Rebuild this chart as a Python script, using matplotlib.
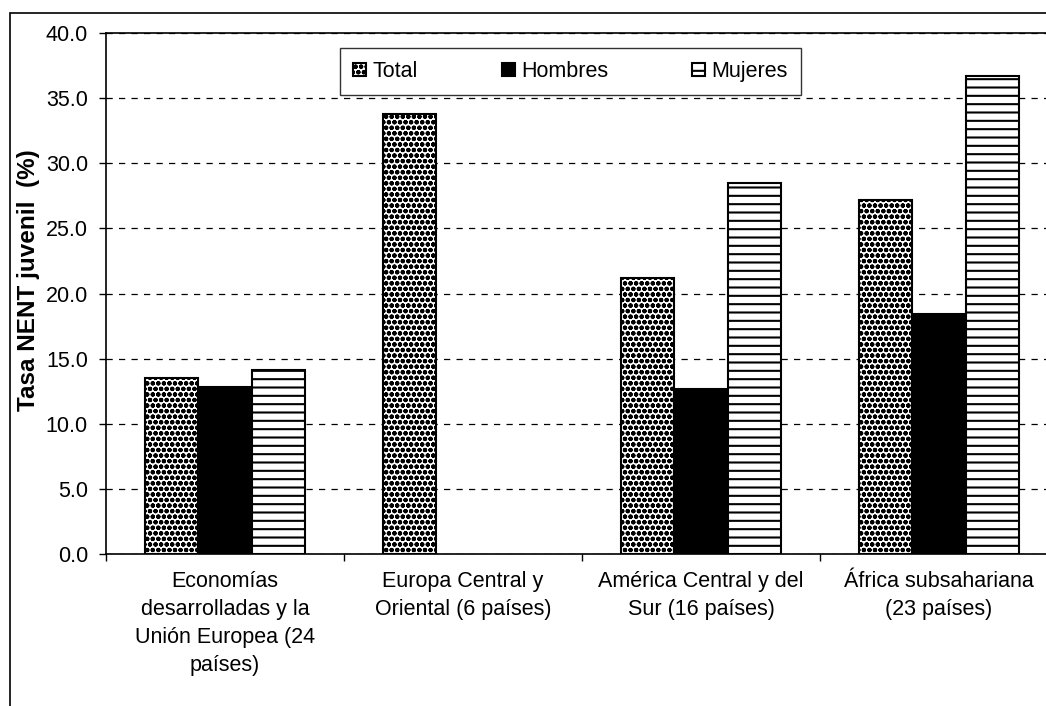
import matplotlib
matplotlib.use("Agg")
import matplotlib.pyplot as plt
import numpy as np
from matplotlib.patches import Rectangle

plt.rcParams['font.family'] = ['Liberation Sans', 'DejaVu Sans']
plt.rcParams['hatch.linewidth'] = 1.5

regiones = ["Economías\ndesarrolladas y la\nUnión Europea (24\npaíses)",
            "Europa Central y\nOriental (6 países)",
            "América Central y del\nSur (16 países)",
            "África subsahariana\n(23 países)"]
total = [13.5, 33.8, 21.2, 27.2]
hombres = [12.8, np.nan, 12.7, 18.4]
mujeres = [14.1, np.nan, 28.5, 36.7]

fs = 15.5
fig = plt.figure(figsize=(10.46, 7.06), dpi=100)
ax = fig.add_axes([106/1046, 1-554/706, 952/1046, 521/706])

x = np.arange(len(regiones))
w = 0.223
ax.bar(x - w, total, w, color='white', edgecolor='black', hatch='ooo', lw=1.5, label='Total', zorder=3)
ax.bar(x, hombres, w, color='black', edgecolor='black', lw=1.5, label='Hombres', zorder=3)
ax.bar(x + w, mujeres, w, color='white', edgecolor='black', hatch='--', lw=1.5, label='Mujeres', zorder=3)

ax.set_xlim(-0.5, 3.5)
ax.set_ylim(0, 40)
ax.set_yticks(np.arange(0, 40.1, 5))
ax.set_yticklabels([f"{v:.1f}" for v in np.arange(0, 40.1, 5)], fontsize=fs)
ax.yaxis.grid(True, color='black', lw=0.9, dashes=(5, 5))
ax.set_axisbelow(True)

ax.set_xticks(x)
ax.set_xticklabels(regiones, fontsize=fs, linespacing=1.45)
ax.set_xticks(np.arange(-0.5, 3.6, 1), minor=True)
ax.tick_params(axis='x', which='major', length=0, pad=12)
ax.tick_params(axis='x', which='minor', length=5, width=1)
ax.tick_params(axis='y', length=5, width=1, pad=8)
for s in ax.spines.values():
    s.set_linewidth(1.2)

fig.text(29/1046, 1-280/706, "Tasa NENT juvenil  (%)", rotation=90, fontsize=17.5,
         fontweight='bold', ha='center', va='center')

leg = ax.legend(ncol=3, loc='upper center', bbox_to_anchor=(0.488, 0.971), fontsize=fs,
                frameon=True, fancybox=False, edgecolor='black', handlelength=0.6,
                handleheight=0.6, columnspacing=3.9, handletextpad=0.3, borderpad=0.6,
                borderaxespad=0)
leg.get_frame().set_linewidth(1.0)

fig.patches.append(Rectangle((10/1046, -0.1), 1.2, 1-13/706+0.1, transform=fig.transFigure,
                             fill=False, edgecolor='black', lw=1.2))

fig.savefig("out.png", dpi=100)
